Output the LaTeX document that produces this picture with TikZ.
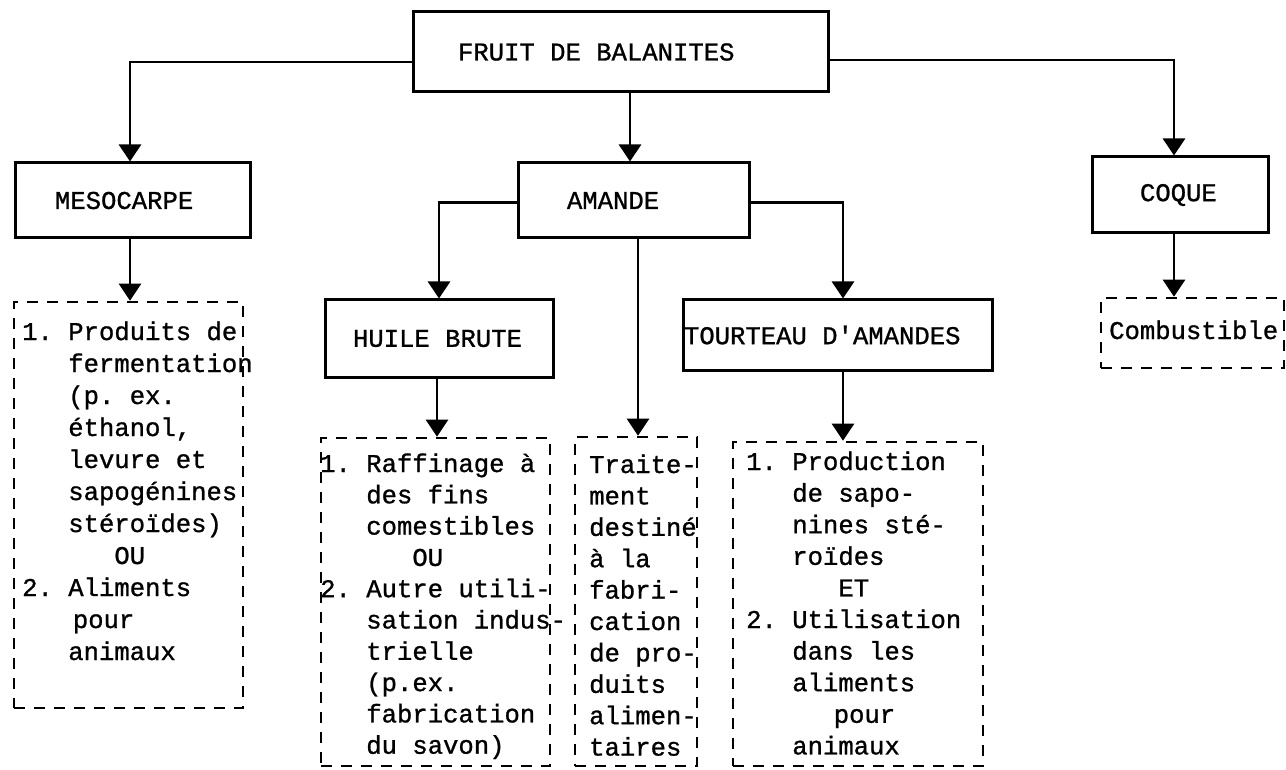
\documentclass[tikz,border=0pt]{standalone}
\usepackage{fontspec}
\setmonofont{Liberation Mono}[FakeBold=1]
\usetikzlibrary{arrows.meta}
% indent by a number of typewriter columns (one column = 0.6em)
\newcommand\col[1]{\hspace*{\fpeval{0.6*#1}em}}
% typewriter setting with fixed one-column spaces
\newcommand\fixspaces{\spaceskip=0.6em\xspaceskip=0.6em\relax}
\newcommand\twfont[1]{\ttfamily\fontsize{25.6}{#1}\selectfont\fixspaces}
\frenchspacing
\begin{document}
\begin{tikzpicture}[x=1pt,y=-1pt,
  every node/.style={font=\twfont{32}},
  solidbox/.style={draw, rectangle, line width=3pt, inner ysep=0pt, align=left,
    execute at begin node=\fixspaces},
  dashbox/.style={draw, rectangle, line width=2.6pt, dash pattern=on 11pt off 9pt, inner sep=0pt},
  body/.style={anchor=base west, inner sep=0pt, align=left},
  conn/.style={line width=2.8pt, -{Triangle[width=22pt,length=17pt]}}]
\fill[white] (0,0) rectangle (1286,770);
\useasboundingbox (0,0) rectangle (1286,770);

% top level and first level boxes
\node[solidbox, minimum width=415pt, minimum height=80pt, inner xsep=45pt, text width=325pt] (fruit) at (620.5,52) {FRUIT DE BALANITES};
\node[solidbox, minimum width=235pt, minimum height=75pt, inner xsep=40pt, text width=155pt] (meso) at (132.5,200.5) {MESOCARPE};
\node[solidbox, minimum width=231pt, minimum height=75pt, inner xsep=49pt, text width=133pt] (amande) at (633.5,200.5) {AMANDE};
\node[solidbox, minimum width=176pt, minimum height=76pt, inner xsep=48pt, text width=80pt] (coque) at (1180,195) {COQUE};

% products of the kernel
\node[solidbox, minimum width=228pt, minimum height=77pt, inner xsep=28pt, text width=172pt] (huile) at (439,338.5) {HUILE BRUTE};
\node[solidbox, minimum width=309pt, minimum height=70pt, inner xsep=1pt, text width=307pt] (tourteau) at (837.5,335) {TOURTEAU D'AMANDES};

% dashed boxes listing the uses
\node[dashbox, minimum width=229pt, minimum height=406pt] (mesoout) at (128.5,505) {};
\node[dashbox, minimum width=229pt, minimum height=328pt] (raff) at (435.5,602) {};
\node[dashbox, minimum width=122pt, minimum height=329pt] (traite) at (636,601.5) {};
\node[dashbox, minimum width=250pt, minimum height=324pt] (prod) at (858,604) {};
\node[dashbox, minimum width=183pt, minimum height=70pt] (comb) at (1192.5,333) {};

% texts of the dashed boxes (anchored on the baseline of their last line)
\node[body] (mesotxt) at (22,660) {1.~Produits de\\
\col{3}fermentation\\
\col{3}(p. ex.\\
\col{3}éthanol,\\
\col{3}levure et\\
\col{3}sapogénines\\
\col{3}stéroïdes)\\
\col{6}OU\\
2.~Aliments\\
\col{3.3}pour\\
\col{3}animaux};

\node[body, font=\twfont{31.3}] (rafftxt) at (320,753.7) {1.~Raffinage à\\
\col{3}des fins\\
\col{3}comestibles\\
\col{6}OU\\
2.~Autre utili-\\
\col{3}sation indus-\\
\col{3}trielle\\
\col{3}(p.ex.\\
\col{3}fabrication\\
\col{3}du savon)};

\node[body, font=\twfont{31.4}] (traitetxt) at (589,755.6) {Traite-\\
ment\\
destiné\\
à la\\
fabri-\\
cation\\
de pro-\\
duits\\
alimen-\\
taires};

\node[body, font=\twfont{31.6}] (prodtxt) at (746,754.4) {1.~Production\\
\col{3}de sapo-\\
\col{3}nines sté-\\
\col{3}roïdes\\
\col{6}ET\\
2.~Utilisation\\
\col{3}dans les\\
\col{3}aliments\\
\col{5.7}pour\\
\col{3}animaux};

\node[body] (combtxt) at (1109,339) {Combustible};

% connectors
\draw[conn] ([yshift=-10pt]fruit.west) -| ([xshift=-2.5pt]meso.north);
\draw[conn] ([xshift=-3.5pt]amande.north |- fruit.south) -- ([xshift=-3.5pt]amande.north);
\draw[conn] ([yshift=-8pt]fruit.east) -| ([xshift=-6pt]coque.north);
\draw[conn] ([xshift=-2.5pt]meso.south) -- ([xshift=-2.5pt]meso.south |- mesoout.north);
\draw[conn] ([yshift=-2pt]amande.west) -| (huile.north);
\draw[conn] ([yshift=-2pt]amande.east) -| ([xshift=5.5pt]tourteau.north);
\draw[conn] ([xshift=2pt]traite.north |- amande.south) -- ([xshift=2pt]traite.north);
\draw[conn] ([xshift=-2pt]huile.south) -- ([xshift=-2pt]huile.south |- raff.north);
\draw[conn] ([xshift=5.5pt]tourteau.south) -- ([xshift=5.5pt]tourteau.south |- prod.north);
\draw[conn] ([xshift=-6pt]coque.south) -- ([xshift=-6pt]coque.south |- comb.north);
\end{tikzpicture}
\end{document}
